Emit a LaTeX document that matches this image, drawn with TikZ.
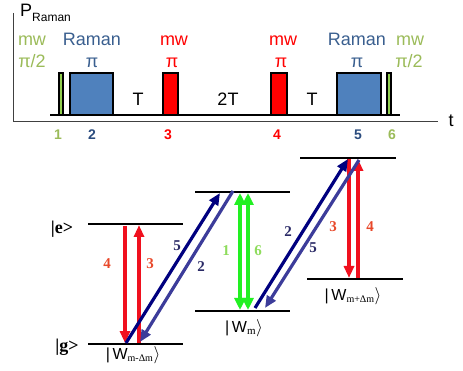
\documentclass[tikz,border=0pt]{standalone}
\usepackage{fontspec}
\setmainfont{Liberation Serif}
\setsansfont{Liberation Sans}
\usetikzlibrary{arrows.meta}
\definecolor{mwGreen}{HTML}{9BBB59}
\definecolor{pulseGreen}{HTML}{92D050}
\definecolor{ramanText}{HTML}{3A5F8F}
\definecolor{ramanFill}{HTML}{4F81BD}
\definecolor{numBlue}{HTML}{2B4C7E}
\definecolor{pulseRed}{HTML}{FF0000}
\definecolor{arrowRed}{HTML}{F0101E}
\definecolor{arrowGreen}{HTML}{22F022}
\definecolor{navyDark}{HTML}{00007F}
\definecolor{navyLight}{HTML}{3C3C9A}
\definecolor{lblRed}{HTML}{E8482A}
\definecolor{lblGreen}{HTML}{8EDC5C}
\definecolor{lblNavy}{HTML}{2A2A66}

\begin{document}
\begin{tikzpicture}[
  x=1pt,
  y=-1pt,
  axis/.style={draw=black!75, line width=1pt},
  pulse/.style={draw=black, line width=1.5pt},
  lvl/.style={draw=black, line width=2pt},
  toptext/.style={font=\sffamily\fontsize{18}{18}\selectfont, inner sep=0pt, anchor=base},
  numtext/.style={font=\sffamily\bfseries\fontsize{14}{14}\selectfont, inner sep=0pt, anchor=base},
  trans/.style={font=\rmfamily\bfseries\fontsize{15}{15}\selectfont, inner sep=0pt},
  state/.style={font=\rmfamily\bfseries\fontsize{18}{18}\selectfont, inner sep=0pt},
  wstate/.style={font=\sffamily\fontsize{16}{16}\selectfont, inner sep=0pt},
  redarrow/.style={-{Triangle[length=12pt,width=10pt]}, line width=3.5pt, draw=arrowRed},
  greenarrow/.style={{Triangle[length=12pt,width=11pt]}-{Triangle[length=12pt,width=11pt]}, line width=3.5pt, draw=arrowGreen},
  darkarrow/.style={-{Triangle[length=12pt,width=10pt]}, line width=3.2pt, draw=navyDark},
  lightarrow/.style={-{Triangle[length=12pt,width=10pt]}, line width=3.2pt, draw=navyLight}
]
\useasboundingbox (0,0) rectangle (463,371);

% pulse sequence
\draw[axis] (13,13) -- (13,122) -- (438,122);
\node[anchor=base west, inner sep=0pt, font=\sffamily\fontsize{18}{18}\selectfont] (pLbl) at (20,17) {P\raisebox{-5pt}{\fontsize{12}{12}\selectfont Raman}};
\node[font=\sffamily\fontsize{18}{18}\selectfont, inner sep=0pt] (tLbl) at (451,121) {t};

\draw[pulse] (50,115) -- (400,115);
\filldraw[pulse, fill=pulseGreen] (59,115) rectangle (63,73);
\filldraw[pulse, fill=ramanFill] (70,115) rectangle (113,73);
\filldraw[pulse, fill=pulseRed] (163,115) rectangle (178,73);
\filldraw[pulse, fill=pulseRed] (271,115) rectangle (287,73);
\filldraw[pulse, fill=ramanFill] (337,115) rectangle (381,73);
\filldraw[pulse, fill=pulseGreen] (387,115) rectangle (391,73);

\node[toptext, text=mwGreen]   (mw1)   at (32,46)  {mw};
\node[toptext, text=mwGreen]   (pi1)   at (32,68)  {π/2};
\node[toptext, text=ramanText] (ram2)  at (92,46)  {Raman};
\node[toptext, text=ramanText] (pi2)   at (92,68)  {π};
\node[toptext, text=pulseRed]  (mw3)   at (174,46) {mw};
\node[toptext, text=pulseRed]  (pi3)   at (172,68) {π};
\node[toptext, text=pulseRed]  (mw4)   at (283,46) {mw};
\node[toptext, text=pulseRed]  (pi4)   at (281,68) {π};
\node[toptext, text=ramanText] (ram5)  at (357,46) {Raman};
\node[toptext, text=ramanText] (pi5)   at (357,68) {π};
\node[toptext, text=mwGreen]   (mw6)   at (410,46) {mw};
\node[toptext, text=mwGreen]   (pi6)   at (409,68) {π/2};

\node[toptext] (waitA) at (138,106) {T};
\node[toptext] (waitB) at (228,106) {2T};
\node[toptext] (waitC) at (312,106) {T};

\node[numtext, text=mwGreen]  (n1) at (58,140)  {1};
\node[numtext, text=numBlue]  (n2) at (92,140)  {2};
\node[numtext, text=pulseRed] (n3) at (168,140) {3};
\node[numtext, text=pulseRed] (n4) at (277,140) {4};
\node[numtext, text=numBlue]  (n5) at (358,140) {5};
\node[numtext, text=mwGreen]  (n6) at (392,140) {6};

% energy levels
\coordinate (eLa) at (88,224);  \coordinate (eLb) at (183,224);
\coordinate (gLa) at (88,344);  \coordinate (gLb) at (183,344);
\coordinate (uMa) at (195,192); \coordinate (uMb) at (290,192);
\coordinate (wMa) at (195,311); \coordinate (wMb) at (290,311);
\coordinate (uRa) at (300,158); \coordinate (uRb) at (396,158);
\coordinate (wRa) at (307,279); \coordinate (wRb) at (403,279);

\draw[lvl] (eLa) -- (eLb);
\draw[lvl] (gLa) -- (gLb);
\draw[lvl] (uMa) -- (uMb);
\draw[lvl] (wMa) -- (wMb);
\draw[lvl] (uRa) -- (uRb);
\draw[lvl] (wRa) -- (wRb);

\node[state] (eLbl) at (62,229) {|e>};
\node[state] (gLbl) at (67,347) {|g>};
\node[wstate] (wL) at (133,355) {|\,W$_{\mbox{\rmfamily\fontsize{10}{10}\selectfont m-Δm}}\rangle$};
\node[wstate] (wM) at (244,328) {|\,W$_{\mbox{\rmfamily\fontsize{11}{11}\selectfont m}}\rangle$};
\node[wstate] (wR) at (353,296) {|\,W$_{\mbox{\rmfamily\fontsize{10}{10}\selectfont m+Δm}}\rangle$};

% transitions
\coordinate (a4s) at (125,226); \coordinate (a4e) at (125,343);
\coordinate (a3s) at (139,343); \coordinate (a3e) at (139,225);
\coordinate (a5s) at (126,343); \coordinate (a5e) at (220,193);
\coordinate (a2s) at (233,191); \coordinate (a2e) at (140,342);
\coordinate (g1s) at (240,193); \coordinate (g1e) at (240,310);
\coordinate (g6s) at (248,193); \coordinate (g6e) at (248,310);
\coordinate (b2s) at (255,308); \coordinate (b2e) at (348,159);
\coordinate (b5s) at (359,160); \coordinate (b5e) at (265,308);
\coordinate (c3s) at (349,159); \coordinate (c3e) at (349,278);
\coordinate (c4s) at (358,278); \coordinate (c4e) at (358,159);

\draw[redarrow] (a4s) -- (a4e);
\draw[redarrow] (a3s) -- (a3e);
\draw[redarrow] (c3s) -- (c3e);
\draw[redarrow] (c4s) -- (c4e);
\draw[greenarrow] (g1s) -- (g1e);
\draw[greenarrow] (g6s) -- (g6e);
\draw[darkarrow] (a5s) -- (a5e);
\draw[lightarrow] (a2s) -- (a2e);
\draw[darkarrow] (b2s) -- (b2e);
\draw[lightarrow] (b5s) -- (b5e);

\node[trans, text=lblRed]   (t4L) at (107,264) {4};
\node[trans, text=lblRed]   (t3L) at (150,264) {3};
\node[trans, text=lblNavy]  (t5L) at (177,246) {5};
\node[trans, text=lblNavy]  (t2L) at (201,267) {2};
\node[trans, text=lblGreen] (t1M) at (226,251) {1};
\node[trans, text=lblGreen] (t6M) at (258,251) {6};
\node[trans, text=lblNavy]  (t2M) at (288,232) {2};
\node[trans, text=lblNavy]  (t5M) at (313,248) {5};
\node[trans, text=lblRed]   (t3R) at (333,227) {3};
\node[trans, text=lblRed]   (t4R) at (370,227) {4};
\end{tikzpicture}
\end{document}
